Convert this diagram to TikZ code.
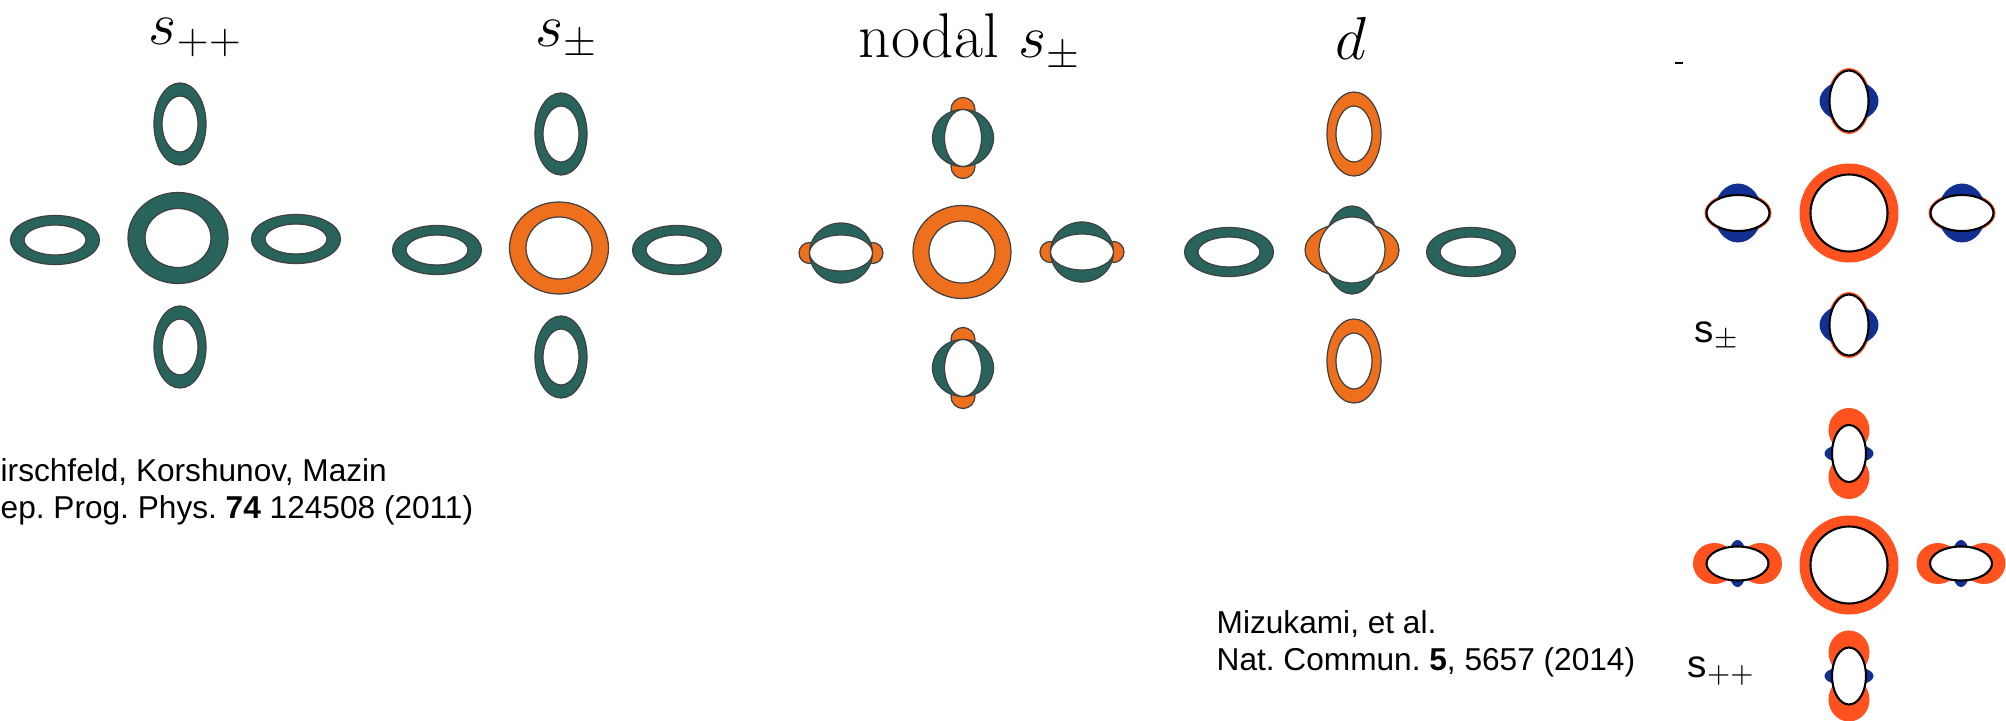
\documentclass[tikz,border=0pt]{standalone}
\usepackage{amsmath}
\usepackage{fontspec}
\newfontfamily\citefont{Liberation Sans}
\usepackage{tikz}
\definecolor{gapteal}{RGB}{40,100,92}
\definecolor{gaporange}{RGB}{238,112,28}
\definecolor{mzred}{RGB}{255,82,30}
\definecolor{mzblue}{RGB}{18,48,148}
\tikzset{
	lobe/.style={draw=black!75, line width=0.35pt},
	hole/.style={fill=white, draw=black!75, line width=0.35pt},
	pocket/.style={even odd rule, fill=#1, draw=black!75, line width=0.35pt},
	mzhole/.style={fill=white, draw=black, line width=0.6pt},
	gaptitle/.style={font=\fontsize{18}{20}\selectfont, inner sep=0pt, anchor=base west},
	mztitle/.style={font=\citefont\fontsize{11}{13}\selectfont, inner sep=0pt, anchor=base west},
	cite/.style={font=\citefont\fontsize{9}{10.44}\selectfont, align=left, inner sep=0pt, anchor=base west},
}
\frenchspacing
\begin{document}
\begin{tikzpicture}[x=0.1mm, y=-0.1mm]
		\fill[white] (0,0) rectangle (2006,721);
		\useasboundingbox (0,0) rectangle (2006,721);
		% titles
		\node[gaptitle] (tspp) at (148,44) {$s_{++}$};
		\node[gaptitle] (tspm) at (535,46) {$s_{\pm}$};
		\node[gaptitle] (tnodal) at (858,58) {nodal $s_{\pm}$};
		\node[gaptitle] (td) at (1335,59) {$d$};
		% s++ and s+-
		\filldraw[pocket=gapteal] (178,238) ellipse [x radius=50, y radius=45.5] (178,238) ellipse [x radius=33, y radius=29.5];
		\filldraw[pocket=gaporange] (559,248) ellipse [x radius=49.5, y radius=46] (559,248) ellipse [x radius=33, y radius=31];
		\foreach \x/\y in {180/124,180/347,561/134,561/357}
		{\filldraw[pocket=gapteal] (\x,\y) ellipse [x radius=26, y radius=41] (\x,\y) ellipse [x radius=18, y radius=28];}
		\foreach \x/\y in {55/240,296/239,437/250,677/250,1229/252,1471/252}
		{\filldraw[pocket=gapteal] (\x,\y) ellipse [x radius=44.5, y radius=24.5] (\x,\y) ellipse [x radius=31, y radius=15];}
		% nodal s+-
		\filldraw[pocket=gaporange] (962,252) ellipse [x radius=49, y radius=46.5] (962,252) ellipse [x radius=33, y radius=31];
		\foreach \x/\y in {963/138,963/368}
		{\begin{scope}[shift={(\x,\y)}]
			\filldraw[lobe, fill=gaporange] (0,-28.5) circle [radius=12] (0,28.5) circle [radius=12];
			\filldraw[lobe, fill=gapteal] (0,0) ellipse [x radius=30.5, y radius=28.5];
			\filldraw[hole] (0,0) ellipse [x radius=18.5, y radius=28.5];
		\end{scope}}
		\foreach \x/\y in {841/253,1082/252}
		{\begin{scope}[shift={(\x,\y)}]
			\filldraw[lobe, fill=gaporange] (-31.5,0) circle [radius=10.5] (31.5,0) circle [radius=10.5];
			\filldraw[lobe, fill=gapteal] (0,0) ellipse [x radius=31.5, y radius=30];
			\filldraw[hole] (0,0) ellipse [x radius=31.5, y radius=18];
		\end{scope}}
		% d
		\begin{scope}[shift={(1352,250)}]
			\filldraw[lobe, fill=gaporange] (0,0) ellipse [x radius=47, y radius=27.5];
			\filldraw[lobe, fill=gapteal] (0,0) ellipse [x radius=27.5, y radius=44];
			\filldraw[hole] (0,0) circle [radius=33];
		\end{scope}
		\foreach \x/\y in {1354/134,1354/361}
		{\filldraw[pocket=gaporange] (\x,\y) ellipse [x radius=27, y radius=42] (\x,\y) ellipse [x radius=18, y radius=28];}
		% Mizukami
		\draw[line width=0.6pt] (1675,63) -- (1683,63);
		\foreach \y in {213,565}
		{\fill[mzred] (1849,\y) circle [radius=49.5];
			\filldraw[mzhole] (1849,\y) circle [radius=38.5];}
		% s+-
		\foreach \y in {101,325}
		{\begin{scope}[shift={(1849,\y)}]
			\fill[mzred] (0,0) ellipse [x radius=21.5, y radius=33];
			\fill[mzblue] (0,0) ellipse [x radius=29.5, y radius=21];
			\filldraw[mzhole] (0,0) ellipse [x radius=19.5, y radius=30.5];
		\end{scope}}
		\foreach \x in {1738,1962}
		{\begin{scope}[shift={(\x,213)}]
			\fill[mzred] (0,0) ellipse [x radius=33.5, y radius=20];
			\fill[mzblue] (0,0) ellipse [x radius=24, y radius=29.5];
			\filldraw[mzhole] (0,0) ellipse [x radius=31.5, y radius=18];
		\end{scope}}
		% s++
		\foreach \y in {453.5,676}
		{\begin{scope}[shift={(1849,\y)}]
			\fill[mzred] (0,-23.5) ellipse [x radius=20.5, y radius=22] (0,23.5) ellipse [x radius=20.5, y radius=22];
			\fill[mzblue] (0,0) ellipse [x radius=24.5, y radius=10];
			\filldraw[mzhole] (0,0) ellipse [x radius=17, y radius=28.5];
		\end{scope}}
		\foreach \x in {1737.5,1961}
		{\begin{scope}[shift={(\x,563.5)}]
			\fill[mzred] (-23,0) ellipse [x radius=21.5, y radius=20.5] (23,0) ellipse [x radius=21.5, y radius=20.5];
			\fill[mzblue] (0,0) ellipse [x radius=10, y radius=23.5];
			\filldraw[mzhole] (0,0) ellipse [x radius=31, y radius=17];
		\end{scope}}
		\node[mztitle] (mspm) at (1694,342) {s$_{\pm}$};
		\node[mztitle] (mspp) at (1687,677) {s$_{++}$};
		% references
		\node[cite] (citek) at (0,518) {irschfeld, Korshunov, Mazin\\ep. Prog. Phys. \textbf{74} 124508 (2011)};
		\node[cite] (citem) at (1216,670) {Mizukami, et al.\\Nat. Commun. \textbf{5}, 5657 (2014)};
	\end{tikzpicture}
\end{document}
